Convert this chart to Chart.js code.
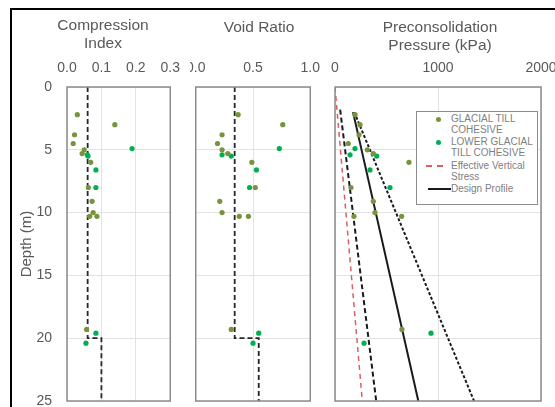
<!DOCTYPE html>
<html>
<head>
<meta charset="utf-8">
<script src="https://cdn.jsdelivr.net/npm/chart.js@4.4.0/dist/chart.umd.min.js"></script>
<style>
  body { margin: 0; width: 555px; height: 407px; overflow: hidden; background: #fff; position: relative;
         font-family: "Liberation Sans", Arial, sans-serif; }
  canvas { position: absolute; top: 0; }
  #c1 { left: 0; z-index: 2; }
  #c2 { left: 176px; z-index: 1; }
  #c3 { left: 320px; z-index: 1; }
  #frame { position: absolute; left: 10px; top: 8px; width: 700px; height: 700px; border: 2px solid #000; z-index: 6; }
  .title { position: absolute; width: 220px; text-align: center; color: #595959; font-size: 15.5px; line-height: 18px; z-index: 5; }
  #legend { position: absolute; left: 416px; top: 111px; width: 120px; height: 92px; border: 1px solid #8c8c8c;
            background: #fff; z-index: 4; }
  #legend .txt { position: absolute; left: 34px; color: #808080; font-size: 10px; line-height: 11px; white-space: nowrap; }
  #legend .dot { position: absolute; width: 5px; height: 5px; border-radius: 50%; }
  #legend .bar { position: absolute; height: 2px; }
</style>
</head>
<body>
<div id="frame"></div>
<div class="title" style="left:-7px; top:16px;">Compression<br>Index</div>
<div class="title" style="left:149px; top:18px;">Void Ratio</div>
<div class="title" style="left:330px; top:18px;">Preconsolidation<br>Pressure (kPa)</div>

<div id="legend">
  <span class="dot" style="left:19px; top:5px; background:#77933c;"></span>
  <span class="txt" style="top:1px;">GLACIAL TILL<br>COHESIVE</span>
  <span class="dot" style="left:19px; top:28px; background:#00b050;"></span>
  <span class="txt" style="top:24px;">LOWER GLACIAL<br>TILL COHESIVE</span>
  <span class="bar" style="left:9px; top:53px; width:6px; background:#d96060;"></span>
  <span class="bar" style="left:20px; top:53px; width:6px; background:#d96060;"></span>
  <span class="txt" style="top:48px;">Effective Vertical<br>Stress</span>
  <span class="bar" style="left:11px; top:76px; width:23px; background:#1a1a1a;"></span>
  <span class="txt" style="top:71px;">Design Profile</span>
</div>

<canvas id="c1" width="190" height="430"></canvas>
<canvas id="c2" width="154" height="430"></canvas>
<canvas id="c3" width="260" height="430"></canvas>

<script>
// Glacial till cohesive samples
const tillDepth = [2.2, 3.0, 3.8, 4.5, 5.0, 5.3, 6.0, 8.0, 9.1, 10.0, 10.3, 10.3, 19.3];
const tillCi    = [0.030, 0.139, 0.022, 0.018, 0.050, 0.044, 0.069, 0.062, 0.073, 0.076, 0.066, 0.087, 0.057];
const tillE     = [0.37, 0.76, 0.23, 0.19, 0.23, 0.28, 0.49, 0.52, 0.21, 0.23, 0.38, 0.46, 0.31];
const tillPc    = [194, 243, 233, 129, 314, 372, 718, 155, 372, 388, 184, 647, 650];

// Lower glacial till cohesive samples
const lowerDepth = [4.9, 5.4, 5.5, 6.6, 8.0, 19.6, 20.4];
const lowerCi    = [0.189, 0.059, 0.061, 0.084, 0.084, 0.084, 0.055];
const lowerE     = [0.73, 0.23, 0.31, 0.53, 0.47, 0.55, 0.50];
const lowerPc    = [194, 146, 405, 340, 534, 932, 282];

// design lines
const ciDesignDepth = [0, 20, 20, 25];
const ciDesign      = [0.06, 0.06, 0.10, 0.10];
const eDesignDepth  = [0, 20, 20, 25];
const eDesign       = [0.34, 0.34, 0.55, 0.55];

const stressDepth = [0, 25];
const stressPc    = [0, 265];
const lowDepth    = [1.8, 25];
const lowPc       = [50, 400];
const designDepth = [2.0, 25];
const designPc    = [175, 809];
const highDepth   = [2.0, 25];
const highPc      = [187, 1350];

const depthTicks = [0, 25, 5];

Chart.defaults.font.family = '"Liberation Sans", Arial, sans-serif';
Chart.defaults.color = '#595959';

const pts = (xs, ys) => xs.map((x, i) => ({ x: x, y: ys[i] }));

const plotFrame = {
    id: 'plotFrame',
    beforeDraw(chart, args, opts) {
        if (opts.fill) {
            chart.ctx.save();
            chart.ctx.fillStyle = '#fff';
            chart.ctx.fillRect(0, 0, chart.width, chart.height);
            chart.ctx.restore();
        }
    },
    afterDraw(chart) {
        const a = chart.chartArea;
        const ctx = chart.ctx;
        ctx.save();
        ctx.strokeStyle = '#8c8c8c';
        ctx.lineWidth = 1.5;
        ctx.strokeRect(a.left, a.top, a.right - a.left, a.bottom - a.top);
        ctx.restore();
    }
};

function pointSet(xs, ys, color) {
    return { data: pts(xs, ys), backgroundColor: color, borderColor: color, pointRadius: 2.6, borderWidth: 0 };
}
function lineSet(xs, ys, color, dash, width) {
    return { data: pts(xs, ys), showLine: true, borderColor: color, borderWidth: width,
             borderDash: dash, pointRadius: 0, fill: false };
}

function yScale(withLabels) {
    return {
        type: 'linear', reverse: true, min: depthTicks[0], max: depthTicks[1],
        afterFit: s => { s.width = withLabels ? 55 : 0; },
        ticks: { display: withLabels, stepSize: depthTicks[2], padding: 15, font: { size: 14 } },
        title: { display: withLabels, text: 'Depth (m)', padding: { top: 6, bottom: 0 }, font: { size: 15 } },
        grid: { color: '#e3e3e3', drawTicks: false },
        border: { display: false }
    };
}
function xScale(max, step, fmt) {
    return {
        type: 'linear', position: 'top', min: 0, max: max,
        afterFit: s => { s.height = 87; },
        ticks: { stepSize: step, padding: 10, font: { size: 14 }, callback: fmt },
        grid: { color: '#e3e3e3', drawTicks: false },
        border: { display: false }
    };
}

function baseOptions(pad, fill, xs, withLabels) {
    return {
        responsive: false,
        animation: false,
        layout: { padding: pad },
        plugins: { legend: { display: false }, tooltip: { enabled: false }, plotFrame: { fill: fill } },
        scales: { x: xs, y: yScale(withLabels) }
    };
}

new Chart(document.getElementById('c1'), {
    type: 'scatter',
    data: {
        datasets: [
            pointSet(tillCi, tillDepth, '#77933c'),
            pointSet(lowerCi, lowerDepth, '#00b050'),
            lineSet(ciDesign, ciDesignDepth, '#262626', [5, 3], 1.8)
        ]
    },
    options: baseOptions({ left: 12, right: 16, top: 0, bottom: 29 }, true,
        xScale(0.3, 0.1, v => v.toFixed(1)), true),
    plugins: [plotFrame]
});

new Chart(document.getElementById('c2'), {
    type: 'scatter',
    data: {
        datasets: [
            pointSet(tillE, tillDepth, '#77933c'),
            pointSet(lowerE, lowerDepth, '#00b050'),
            lineSet(eDesign, eDesignDepth, '#262626', [5, 3], 1.8)
        ]
    },
    options: baseOptions({ left: 17, right: 17, top: 0, bottom: 29 }, false,
        xScale(1.0, 0.5, v => v.toFixed(1)), false),
    plugins: [plotFrame]
});

new Chart(document.getElementById('c3'), {
    type: 'scatter',
    data: {
        datasets: [
            pointSet(tillPc, tillDepth, '#77933c'),
            pointSet(lowerPc, lowerDepth, '#00b050'),
            lineSet(stressPc, stressDepth, '#d96060', [5, 4], 1.5),
            lineSet(lowPc, lowDepth, '#1a1a1a', [5, 3], 2),
            lineSet(designPc, designDepth, '#1a1a1a', [], 2),
            lineSet(highPc, highDepth, '#1a1a1a', [3, 2], 2)
        ]
    },
    options: baseOptions({ left: 15, right: 39, top: 0, bottom: 29 }, false,
        xScale(2000, 1000, v => String(v)), false),
    plugins: [plotFrame]
});
</script>
</body>
</html>
